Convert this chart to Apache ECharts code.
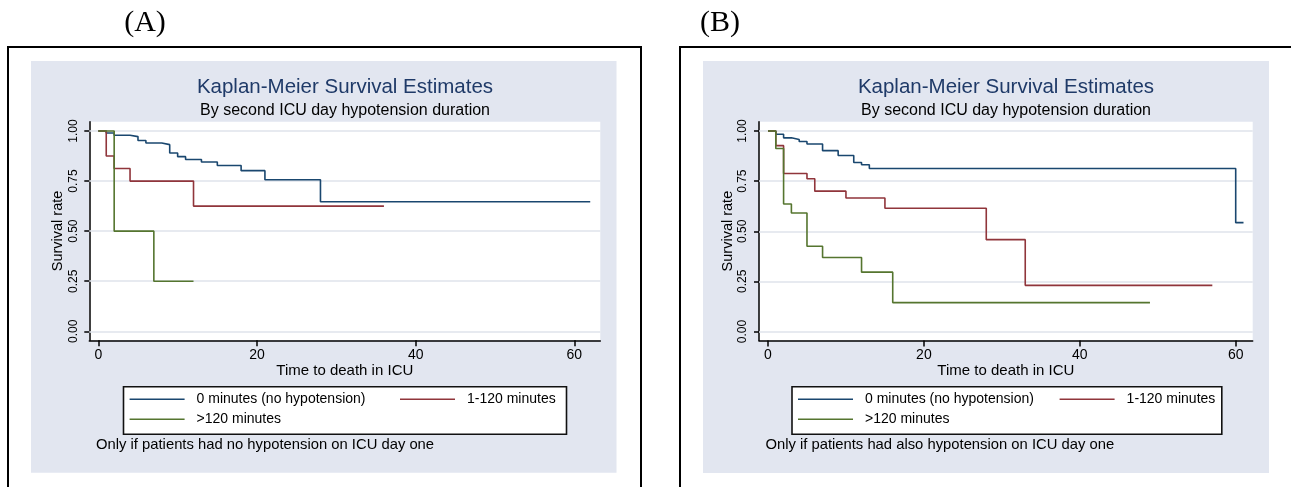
<!DOCTYPE html>
<html>
<head>
<meta charset="utf-8">
<script src="https://cdn.jsdelivr.net/npm/echarts@6/dist/echarts.min.js"></script>
<style>
html,body{margin:0;padding:0;background:#fff;}
#chart{width:1291px;height:487px;}
</style>
</head>
<body>
<div id="chart"></div>
<script>
// ---------- data ----------
const seriesNames = ['0 minutes (no hypotension)', '1-120 minutes', '>120 minutes'];
const xTicks = [0, 20, 40, 60];
const yTicks = [0, 0.25, 0.5, 0.75, 1];
const yTickLabels = ['0.00', '0.25', '0.50', '0.75', '1.00'];

// Panel A: only if patients had no hypotension on ICU day one
const blueA_t = [0, 1, 2, 4, 5, 6, 8, 9, 10, 11, 13, 15, 18, 21, 28, 62];
const blueA_s = [1, 0.99, 0.979, 0.972, 0.953, 0.94, 0.932, 0.89, 0.872, 0.858, 0.845, 0.828, 0.802, 0.757, 0.647, 0.647];
const redA_t = [0, 1, 2, 4, 12, 36];
const redA_s = [1, 0.875, 0.8125, 0.75, 0.625, 0.625];
const greenA_t = [0, 2, 7, 12];
const greenA_s = [1, 0.5, 0.25, 0.25];

// Panel B: only if patients had also hypotension on ICU day one
const blueB_t = [0, 1, 2, 3, 4, 5, 7, 9, 11, 12, 13, 60, 61];
const blueB_s = [1, 0.984, 0.966, 0.958, 0.948, 0.935, 0.902, 0.878, 0.843, 0.832, 0.813, 0.543, 0.543];
const redB_t = [0, 1, 2, 5, 6, 10, 15, 28, 33, 57];
const redB_s = [1, 0.927, 0.788, 0.762, 0.70, 0.666, 0.615, 0.458, 0.230, 0.230];
const greenB_t = [0, 1, 2, 3, 5, 7, 12, 16, 49];
const greenB_s = [1, 0.913, 0.636, 0.591, 0.425, 0.369, 0.296, 0.144, 0.144];

const titleText = 'Kaplan-Meier Survival Estimates';
const subtitleText = 'By second ICU day hypotension duration';
const xName = 'Time to death in ICU';
const yName = 'Survival rate';
const noteA = 'Only if patients had no hypotension on ICU day one';
const noteB = 'Only if patients had also hypotension on ICU day one';

// ---------- styling ----------
const FONT = 'Liberation Sans, Arial, sans-serif';
const COLORS = ['#1a476f', '#90353b', '#55752f'];
const BG = '#e2e6f0';
const GRIDC = '#dfe3eb';

function pairs(t, s) { return t.map((v, i) => [v, s[i]]); }

const panels = [
  { grid: { left: 89.3, top: 121.7, width: 511, height: 218.6 }, xmin: -1.135, xmax: 63.27,
    data: [[blueA_t, blueA_s], [redA_t, redA_s], [greenA_t, greenA_s]] },
  { grid: { left: 759, top: 121.7, width: 493.7, height: 218.8 }, xmin: -1.155, xmax: 62.18,
    data: [[blueB_t, blueB_s], [redB_t, redB_s], [greenB_t, greenB_s]] }
];

const grids = [], xAxes = [], yAxes = [], series = [];
panels.forEach((p, pi) => {
  grids.push(Object.assign({ show: true, backgroundColor: '#ffffff', borderWidth: 0, containLabel: false, outerBoundsMode: 'none' }, p.grid));
  xAxes.push({
    gridIndex: pi, type: 'value', min: p.xmin, max: p.xmax,
    axisLine: { show: true, onZero: false, lineStyle: { color: '#000', width: 1.5 } },
    axisTick: { show: true, length: 6, customValues: xTicks, lineStyle: { color: '#000', width: 1.5 } },
    axisLabel: { customValues: xTicks, fontSize: 14, color: '#000', margin: 8, fontFamily: FONT },
    splitLine: { show: false },
    name: xName, nameLocation: 'middle', nameGap: 23,
    nameTextStyle: { fontSize: 15, color: '#000', fontFamily: FONT }
  });
  yAxes.push({
    gridIndex: pi, type: 'value', min: -0.045, max: 1.0465,
    axisLine: { show: true, onZero: false, lineStyle: { color: '#000', width: 1.5 } },
    axisTick: { show: true, length: 5, customValues: yTicks, lineStyle: { color: '#000', width: 1.5 } },
    axisLabel: { customValues: yTicks, rotate: 90, fontSize: 12, color: '#000', margin: 10, fontFamily: FONT,
      formatter: v => { const i = yTicks.findIndex(t => Math.abs(t - v) < 1e-6); return i >= 0 ? yTickLabels[i] : ''; } },
    splitLine: { show: false },
    name: yName, nameLocation: 'middle', nameGap: 24,
    nameTextStyle: { fontSize: 14.5, color: '#000', fontFamily: FONT }
  });
  p.data.forEach((d, si) => {
    const s = {
      name: seriesNames[si], type: 'line', step: 'end', xAxisIndex: pi, yAxisIndex: pi,
      data: pairs(d[0], d[1]), symbol: 'none', showSymbol: false, clip: false, z: 3,
      color: COLORS[si], lineStyle: { color: COLORS[si], width: 1.6 }
    };
    if (si === 0) {
      s.markLine = {
        silent: true, symbol: ['none', 'none'], label: { show: false }, z: 1,
        lineStyle: { color: GRIDC, width: 1.5, type: 'solid' },
        emphasis: { disabled: true },
        data: yTicks.map(v => ({ yAxis: v }))
      };
    }
    series.push(s);
  });
});

const legendPos = [
  [129.6, 391.3], [400, 391.3], [129.6, 411.3],
  [798, 391.3], [1059.6, 391.3], [798, 411.3]
];
const legends = legendPos.map((lp, i) => ({
  data: [seriesNames[i % 3]], left: lp[0], top: lp[1], padding: 0, selectedMode: false,
  icon: 'rect', itemWidth: 55, itemHeight: 1.5,
  textStyle: { fontSize: 14, color: '#000', fontFamily: FONT, lineHeight: 16, padding: [0, 0, 0, 7] }
}));

function txt(x, y, text, size, opts) {
  return Object.assign({ type: 'text', x: x, y: y, z: 10, silent: true,
    style: Object.assign({ text: text, fontSize: size, fontFamily: FONT, fill: '#000', align: 'left', verticalAlign: 'middle' }, opts || {}) });
}

const graphics = [
  // outer frames
  { type: 'polyline', z: -20, silent: true, shape: { points: [[8, 492], [8, 47], [641, 47], [641, 492]] }, style: { stroke: '#000', lineWidth: 2, fill: null } },
  { type: 'polyline', z: -20, silent: true, shape: { points: [[680, 492], [680, 47], [1296, 47]] }, style: { stroke: '#000', lineWidth: 2, fill: null } },
  // light backgrounds
  { type: 'rect', z: -10, silent: true, shape: { x: 31, y: 61, width: 585.5, height: 411.7 }, style: { fill: BG } },
  { type: 'rect', z: -10, silent: true, shape: { x: 703, y: 61, width: 566, height: 412 }, style: { fill: BG } },
  // legend boxes
  { type: 'rect', z: 1, silent: true, shape: { x: 123.5, y: 386.7, width: 443, height: 47.6 }, style: { fill: '#fff', stroke: '#111', lineWidth: 1.6 } },
  { type: 'rect', z: 1, silent: true, shape: { x: 792, y: 386.7, width: 429.8, height: 47.6 }, style: { fill: '#fff', stroke: '#111', lineWidth: 1.6 } },
  // panel labels
  txt(145, 23, '(A)', 30, { align: 'center', fontFamily: 'Liberation Serif, Times New Roman, serif' }),
  txt(720, 23, '(B)', 30, { align: 'center', fontFamily: 'Liberation Serif, Times New Roman, serif' }),
  // titles
  txt(345, 87, titleText, 20.5, { align: 'center', fill: '#1f3a68' }),
  txt(1006, 87, titleText, 20.5, { align: 'center', fill: '#1f3a68' }),
  txt(345, 110.5, subtitleText, 16, { align: 'center' }),
  txt(1006, 110.5, subtitleText, 16, { align: 'center' }),
  // notes
  txt(96, 445, noteA, 14.8),
  txt(765.4, 445, noteB, 14.8)
];

const chart = echarts.init(document.getElementById('chart'), null, { renderer: 'canvas' });
chart.setOption({
  animation: false,
  backgroundColor: '#ffffff',
  grid: grids,
  xAxis: xAxes,
  yAxis: yAxes,
  legend: legends,
  series: series,
  graphic: { elements: graphics }
});
</script>
</body>
</html>
